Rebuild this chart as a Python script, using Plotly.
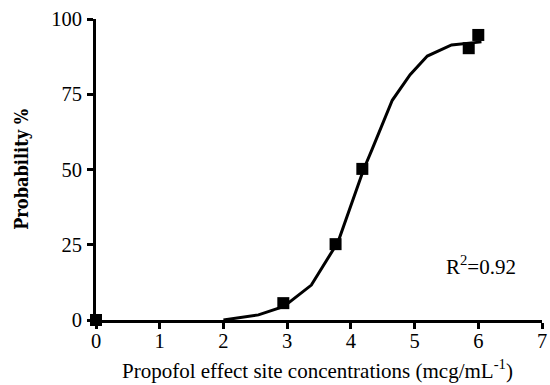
import plotly.graph_objects as go

# Observed data points
obs_x = [0.0, 2.94, 3.76, 4.18, 5.85, 6.0]
obs_y = [0.0, 5.6, 25.2, 50.2, 90.3, 94.7]

# Fitted curve
fit_x = [2.0, 2.55, 2.95, 3.38, 3.8, 4.2, 4.33, 4.65, 4.93, 5.2, 5.58, 5.9, 6.05]
fit_y = [0.0, 1.7, 4.5, 11.6, 26.0, 50.0, 56.5, 73.0, 81.5, 87.7, 91.4, 92.0, 92.4]

x_ticks = [0, 1, 2, 3, 4, 5, 6, 7]
y_ticks = [0, 25, 50, 75, 100]

serif = "Liberation Serif"

fig = go.Figure()
fig.add_trace(go.Scatter(x=fit_x, y=fit_y, mode="lines",
                         line=dict(color="black", width=3), cliponaxis=False,
                         showlegend=False))
fig.add_trace(go.Scatter(x=obs_x, y=obs_y, mode="markers",
                         marker=dict(symbol="square", size=12, color="black"),
                         cliponaxis=False, showlegend=False))

fig.update_layout(
    width=550, height=385,
    margin=dict(l=96, r=3, t=19, b=65),
    plot_bgcolor="white", paper_bgcolor="white",
    font=dict(family=serif, size=20, color="black"),
    xaxis=dict(range=[0, 7], tickvals=x_ticks, ticks="outside", ticklen=6,
               tickwidth=2.5, tickcolor="black", showline=True, linewidth=3,
               linecolor="black", showgrid=False, zeroline=False,
               ticklabeloverflow="allow", ticklabelstandoff=-6,
               tickfont=dict(size=20.5, family=serif, color="black")),
    yaxis=dict(range=[0, 100], tickvals=y_ticks, ticks="outside", ticklen=6,
               tickwidth=2.5, tickcolor="black", showline=True, linewidth=3,
               linecolor="black", showgrid=False, zeroline=False,
               ticklabeloverflow="allow", ticklabelstandoff=1,
               tickfont=dict(size=20.5, family=serif, color="black")),
    annotations=[
        dict(text="Propofol effect site concentrations (mcg/mL<sup>-1</sup>)",
             xref="paper", yref="paper", x=(320 - 96) / 451, y=-(369 - 320) / 301,
             yanchor="middle", xanchor="center",
             showarrow=False, font=dict(size=21, family=serif, color="black")),
        dict(text="<b>Probability %</b>", xref="paper", yref="paper",
             x=(20 - 96) / 451, y=(320 - 169) / 301, textangle=-90, showarrow=False,
             xanchor="center", yanchor="middle",
             font=dict(size=18, family="DejaVu Serif Condensed", color="black")),
        dict(text="R<sup>2</sup>=0.92", x=6.05, y=18, xref="x", yref="y",
             showarrow=False, font=dict(size=21, family=serif, color="black")),
    ],
)

fig.write_html("out.html")
